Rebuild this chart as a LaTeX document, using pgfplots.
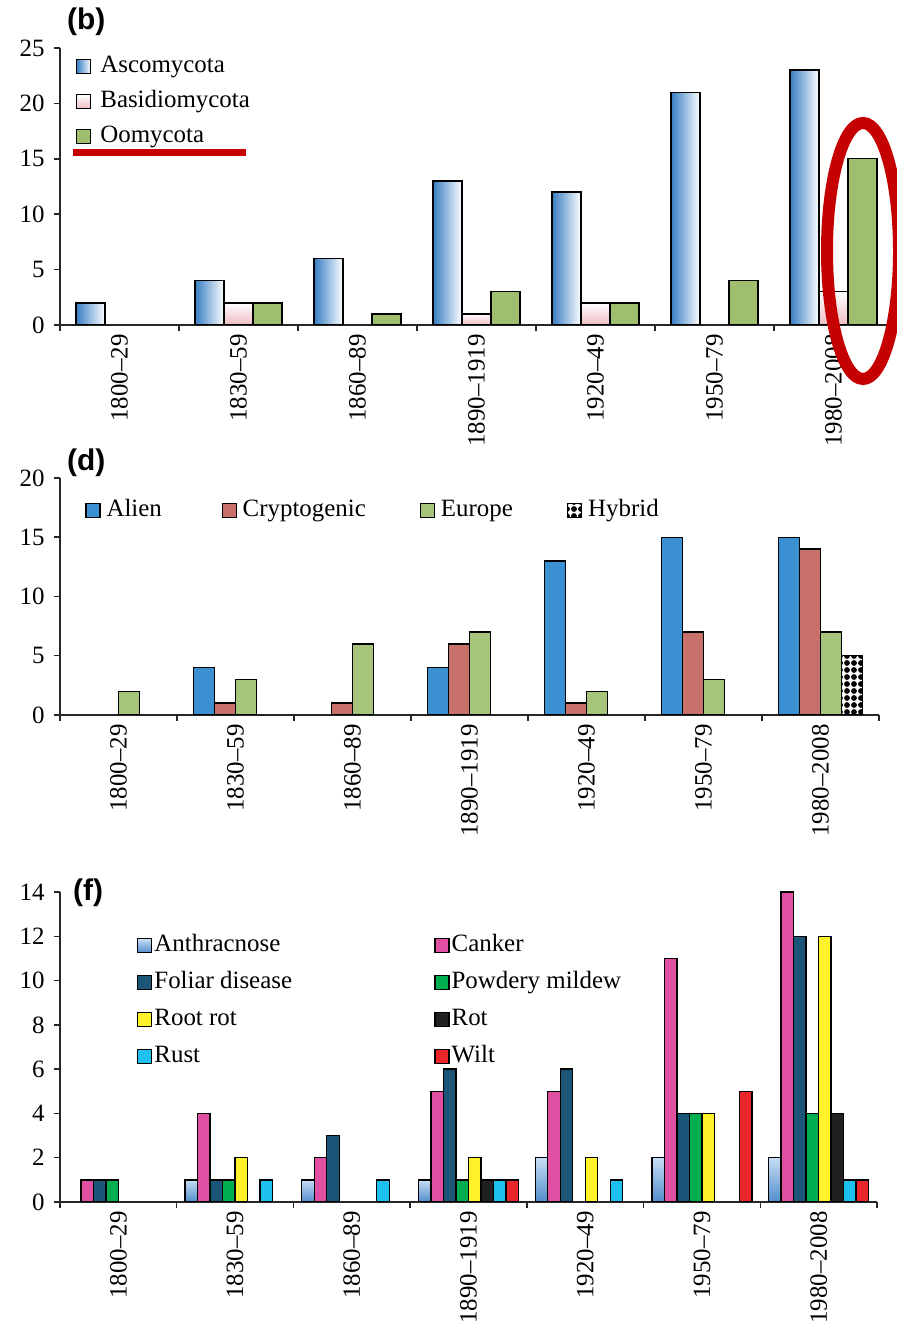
\documentclass[border=0pt]{standalone}
\usepackage{fontspec}
\setmainfont{Liberation Serif}
\newfontfamily\panelfont{Liberation Sans}
\usepackage{pgfplots}
\pgfplotsset{compat=1.18}
\usetikzlibrary{patterns.meta}

\definecolor{ascblue}{RGB}{55,126,196}
\definecolor{basipink}{RGB}{238,188,194}
\definecolor{oomygreen}{RGB}{159,191,110}
\definecolor{alienblue}{RGB}{58,144,208}
\definecolor{cryptored}{RGB}{200,113,106}
\definecolor{eurogreen}{RGB}{166,196,122}
\definecolor{anthtop}{RGB}{200,222,245}
\definecolor{anthbot}{RGB}{80,140,205}
\definecolor{canker}{RGB}{224,79,162}
\definecolor{foliar}{RGB}{27,86,120}
\definecolor{powdery}{RGB}{0,174,79}
\definecolor{rootrot}{RGB}{255,242,42}
\definecolor{rot}{RGB}{32,32,32}
\definecolor{rust}{RGB}{30,192,240}
\definecolor{wilt}{RGB}{232,38,43}
\definecolor{annot}{RGB}{196,0,0}

\newcommand\tfont{\fontsize{25}{25}\selectfont}

\pgfplotsset{
  decades/.style={
    scale only axis,
    axis lines*=left,
    axis line style={line width=1.5bp, black!85},
    xmin=-0.5, xmax=6.5, ymin=0,
    xtick={0,...,6},
    xticklabels={1800–29,1830–59,1860–89,1890–1919,1920–49,1950–79,1980–2008},
    minor xtick={-0.5,0.5,...,6.5},
    major x tick style={draw=none},
    tick align=outside,
    major tick length=6bp, minor tick length=6bp,
    tick style={line width=1.5bp, black!85},
    tick label style={font=\tfont},
    x tick label style={rotate=90, anchor=east},
    y tick label style={xshift=-6bp},
    /pgf/number format/assume math mode=true,
    ybar=0pt,
    legend image code/.code={\draw[##1, line width=1.2bp] (0bp,-7bp) rectangle (14bp,7bp);},
    legend cell align=left,
    legend style={draw=none, fill=none, inner sep=0pt, font=\tfont,
      nodes={inner xsep=5bp, inner ysep=0pt, text height=17bp, text depth=6bp}},
  },
  bars/.style={draw=black, line width=1.4bp},
  asco/.style={bars, left color=ascblue, middle color=ascblue!30, right color=white},
  basi/.style={bars, top color=white, bottom color=basipink},
  anth/.style={bars, top color=anthtop, bottom color=anthbot},
}

\begin{document}
\begin{tikzpicture}

% ---- (b) phyla: each shaded bar is its own plot so that it gets its own gradient ----
\begin{axis}[decades,
  at={(60bp,1010bp)}, anchor=south west,
  width=833bp, height=277bp,
  ymax=25, ytick={0,5,...,25},
  bar width=29bp,
  legend style={at={(0.0192,0.974)}, anchor=north west, row sep=12bp},
]
\addlegendimage{asco}\addlegendentry{\hspace*{4bp}Ascomycota}
\addlegendimage{basi}\addlegendentry{\hspace*{4bp}Basidiomycota}
\addlegendimage{bars, fill=oomygreen}\addlegendentry{\hspace*{4bp}Oomycota}
% Ascomycota
\addplot[asco, bar shift=-29bp, forget plot] coordinates {(0,2)};
\addplot[asco, bar shift=-29bp, forget plot] coordinates {(1,4)};
\addplot[asco, bar shift=-29bp, forget plot] coordinates {(2,6)};
\addplot[asco, bar shift=-29bp, forget plot] coordinates {(3,13)};
\addplot[asco, bar shift=-29bp, forget plot] coordinates {(4,12)};
\addplot[asco, bar shift=-29bp, forget plot] coordinates {(5,21)};
\addplot[asco, bar shift=-29bp, forget plot] coordinates {(6,23)};
% Basidiomycota
\addplot[basi, bar shift=0bp, forget plot] coordinates {(1,2)};
\addplot[basi, bar shift=0bp, forget plot] coordinates {(3,1)};
\addplot[basi, bar shift=0bp, forget plot] coordinates {(4,2)};
\addplot[basi, bar shift=0bp, forget plot] coordinates {(6,3)};
% Oomycota
\addplot[bars, fill=oomygreen, bar shift=29bp, forget plot] coordinates {(1,2)(2,1)(3,3)(4,2)(5,4)(6,15)};
\end{axis}

% ---- (d) origin ----
\begin{axis}[decades,
  at={(60bp,620bp)}, anchor=south west,
  width=819bp, height=237bp,
  ymax=20, ytick={0,5,...,20},
  bar width=21bp,
  legend columns=4,
  legend style={at={(0.0307,0.911)}, anchor=north west},
]
\addplot[bars, fill=alienblue, bar shift=-31.5bp] coordinates {(1,4)(3,4)(4,13)(5,15)(6,15)};
\addplot[bars, fill=cryptored, bar shift=-10.5bp] coordinates {(1,1)(2,1)(3,6)(4,1)(5,7)(6,14)};
\addplot[bars, fill=eurogreen, bar shift=10.5bp] coordinates {(0,2)(1,3)(2,6)(3,7)(4,2)(5,3)(6,7)};
\addplot[bars, fill=white, pattern={Dots[distance=7bp, radius=2.9bp]}, pattern color=black, bar shift=31.5bp] coordinates {(6,5)};
\legend{\hspace*{1bp}\makebox[110bp][l]{Alien}, \hspace*{1bp}\makebox[172bp][l]{Cryptogenic},
        \hspace*{1bp}\makebox[121bp][l]{Europe}, \hspace*{1bp}Hybrid}
\end{axis}

% ---- (f) disease type ----
\begin{axis}[decades,
  at={(60bp,133bp)}, anchor=south west,
  width=817bp, height=310bp,
  ymax=14, ytick={0,2,...,14},
  bar width=12.5bp,
  legend columns=2,
  legend style={at={(0.0943,0.864)}, anchor=north west, row sep=14bp,
    nodes={inner xsep=2bp}},
]
\addlegendimage{anth}\addlegendentry{\makebox[278bp][l]{Anthracnose}}
\addplot[anth, bar shift=-43.75bp, forget plot] coordinates {(1,1)};
\addplot[anth, bar shift=-43.75bp, forget plot] coordinates {(2,1)};
\addplot[anth, bar shift=-43.75bp, forget plot] coordinates {(3,1)};
\addplot[anth, bar shift=-43.75bp, forget plot] coordinates {(4,2)};
\addplot[anth, bar shift=-43.75bp, forget plot] coordinates {(5,2)};
\addplot[anth, bar shift=-43.75bp, forget plot] coordinates {(6,2)};
\addplot[bars, fill=canker, bar shift=-31.25bp] coordinates {(0,1)(1,4)(2,2)(3,5)(4,5)(5,11)(6,14)};
\addlegendentry{Canker}
\addplot[bars, fill=foliar, bar shift=-18.75bp] coordinates {(0,1)(1,1)(2,3)(3,6)(4,6)(5,4)(6,12)};
\addlegendentry{\makebox[278bp][l]{Foliar disease}}
\addplot[bars, fill=powdery, bar shift=-6.25bp] coordinates {(0,1)(1,1)(3,1)(5,4)(6,4)};
\addlegendentry{Powdery mildew}
\addplot[bars, fill=rootrot, bar shift=6.25bp] coordinates {(1,2)(3,2)(4,2)(5,4)(6,12)};
\addlegendentry{\makebox[278bp][l]{Root rot}}
\addplot[bars, fill=rot, bar shift=18.75bp] coordinates {(3,1)(6,4)};
\addlegendentry{Rot}
\addplot[bars, fill=rust, bar shift=31.25bp] coordinates {(1,1)(2,1)(3,1)(4,1)(6,1)};
\addlegendentry{\makebox[278bp][l]{Rust}}
\addplot[bars, fill=wilt, bar shift=43.75bp] coordinates {(3,1)(5,5)(6,1)};
\addlegendentry{Wilt}
\end{axis}

% panel letters
\begin{scope}[every node/.style={font=\panelfont\bfseries\fontsize{30}{30}\selectfont, anchor=west, inner sep=0pt}]
  \node at (67bp,1313bp) {(b)};
  \node at (67bp,872bp) {(d)};
  \node at (73bp,442bp) {(f)};
\end{scope}

% highlight marks
\draw[annot, line width=7bp] (73bp,1182bp) -- (246bp,1182bp);
\draw[annot, line width=12bp] (863bp,1084bp) ellipse [x radius=36bp, y radius=128bp];

\pgfresetboundingbox
\useasboundingbox (0bp,0bp) rectangle (897bp,1335bp);
\end{tikzpicture}
\end{document}
